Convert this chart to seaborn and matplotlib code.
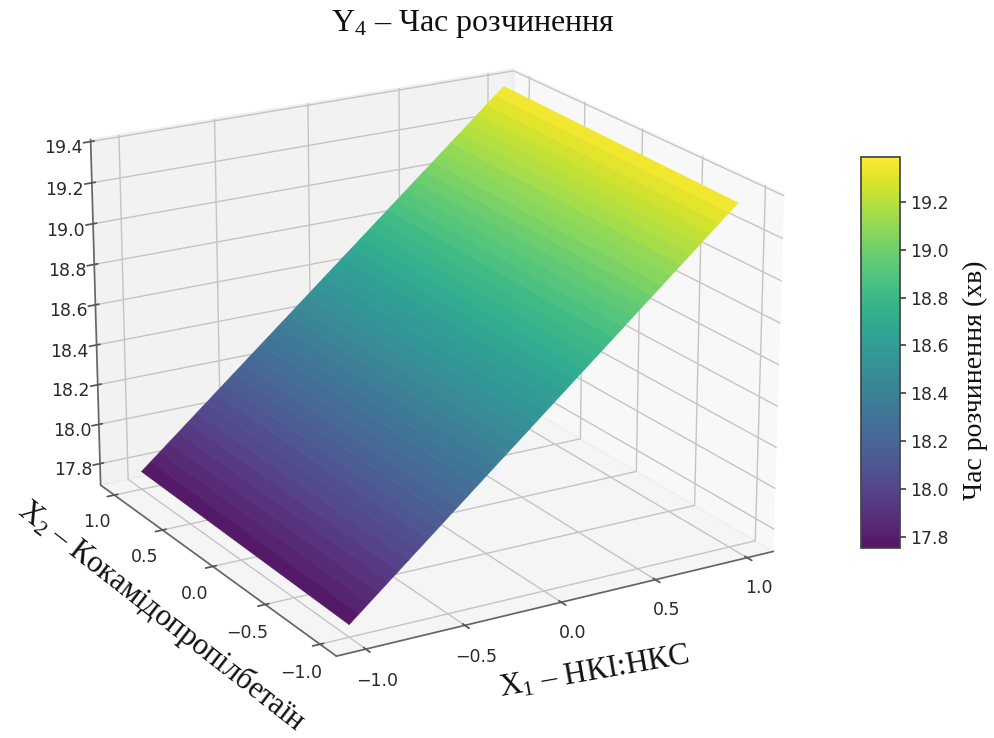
import numpy as np
import matplotlib
matplotlib.use("Agg")
import matplotlib.pyplot as plt
from matplotlib.colors import ListedColormap
import seaborn as sns

x1_grid = [-1.0, -0.95, -0.9, -0.85, -0.8, -0.75, -0.7, -0.65, -0.6, -0.55, -0.5, -0.45, -0.4, -0.35, -0.3, -0.25, -0.2, -0.15, -0.1, -0.05, 0.0,
           0.05, 0.1, 0.15, 0.2, 0.25, 0.3, 0.35, 0.4, 0.45, 0.5, 0.55, 0.6, 0.65, 0.7, 0.75, 0.8, 0.85, 0.9, 0.95, 1.0]
x2_grid = [-1.0, 1.0]
z_x2_low = [17.75, 17.79, 17.83, 17.87, 17.91, 17.95, 17.99, 18.03, 18.07, 18.11, 18.15, 18.19, 18.23, 18.27, 18.31, 18.35, 18.39, 18.43, 18.47, 18.51, 18.55,
            18.59, 18.63, 18.67, 18.71, 18.75, 18.79, 18.83, 18.87, 18.91, 18.95, 18.99, 19.03, 19.07, 19.11, 19.15, 19.19, 19.23, 19.27, 19.31, 19.35]
z_x2_high = [17.78, 17.82, 17.86, 17.90, 17.94, 17.98, 18.02, 18.06, 18.10, 18.14, 18.18, 18.22, 18.26, 18.30, 18.34, 18.38, 18.42, 18.46, 18.50, 18.54, 18.58,
             18.62, 18.66, 18.70, 18.74, 18.78, 18.82, 18.86, 18.90, 18.94, 18.98, 19.02, 19.06, 19.10, 19.14, 19.18, 19.22, 19.26, 19.30, 19.34, 19.38]
xy_ticks = [-1.0, -0.5, 0.0, 0.5, 1.0]
z_ticks = [17.8, 18.0, 18.2, 18.4, 18.6, 18.8, 19.0, 19.2, 19.4]
cbar_ticks = [17.8, 18.0, 18.2, 18.4, 18.6, 18.8, 19.0, 19.2]
title = "Y$_4$ – Час розчинення"
x1_label = "X$_1$ – НКІ:НКС"
x2_label = "X$_2$ – Кокамідопропілбетаїн"
cbar_label = "Час розчинення (хв)"

sns.set_theme(style="white")
plt.rcParams["font.family"] = ["DejaVu Sans"]
plt.rcParams["mathtext.fontset"] = "custom"
plt.rcParams["mathtext.rm"] = "Liberation Serif"
plt.rcParams["mathtext.default"] = "rm"
serif = ["Liberation Serif", "DejaVu Serif"]
muted = np.array(sns.color_palette("viridis", 256)) * 0.92 + 0.08
muted[:, 1] = np.clip(muted[:, 1], 0, 1)
cmap = ListedColormap(muted)
ink = "#2a2a2a"

size = 775
cx, cy = 420, 355
fig = plt.figure(figsize=(9.95, 7.38), dpi=100)
ax = fig.add_axes([(cx - size / 2) / 995, 1 - (cy + size / 2) / 738, size / 995, size / 738], projection="3d")
X, Y = np.meshgrid(x1_grid, x2_grid)
Z = np.array([z_x2_low, z_x2_high])
surf = ax.plot_surface(X, Y, Z, cmap=cmap, rstride=1, cstride=1, linewidth=0.4, antialiased=True)
surf.set_edgecolor("face")
surf.set_clim(17.754, 19.387)
ax.view_init(elev=20, azim=-120.5)
ax.set_xticks(xy_ticks)
ax.set_yticks(xy_ticks)
ax.set_zticks(z_ticks)
ax.set_zlim(17.69, 19.41)
ax.tick_params(labelsize=12.5, labelcolor=ink, color="#555555", pad=4)
for a in (ax.xaxis, ax.yaxis, ax.zaxis):
    a._axinfo["grid"]["color"] = "#c4c4c4"
    a._axinfo["grid"]["linewidth"] = 1.0
    a.line.set_color("#666666")

cax = fig.add_axes([861 / 995, 1 - 548 / 738, 39 / 995, 391 / 738])
cb = fig.colorbar(surf, cax=cax)
cb.set_ticks(cbar_ticks)
cb.ax.tick_params(labelsize=12.5, length=4, color="#444444", labelcolor=ink)
cb.outline.set_edgecolor("#444444")

fig.text(473 / 995, 1 - 24 / 738, title, family=serif, fontsize=23, ha="center", va="center", color="#111111")
fig.text(594 / 995, 1 - 672 / 738, x1_label, family=serif, fontsize=22.5, ha="center", va="center", rotation=10, color="#111111")
fig.text(162 / 995, 1 - 616 / 738, x2_label, family=serif, fontsize=22, ha="center", va="center", rotation=-38, color="#111111")
fig.text(975 / 995, 1 - 380 / 738, cbar_label, family=serif, fontsize=20, ha="center", va="center", rotation=90, color="#111111")
fig.savefig("out.png", dpi=100)
